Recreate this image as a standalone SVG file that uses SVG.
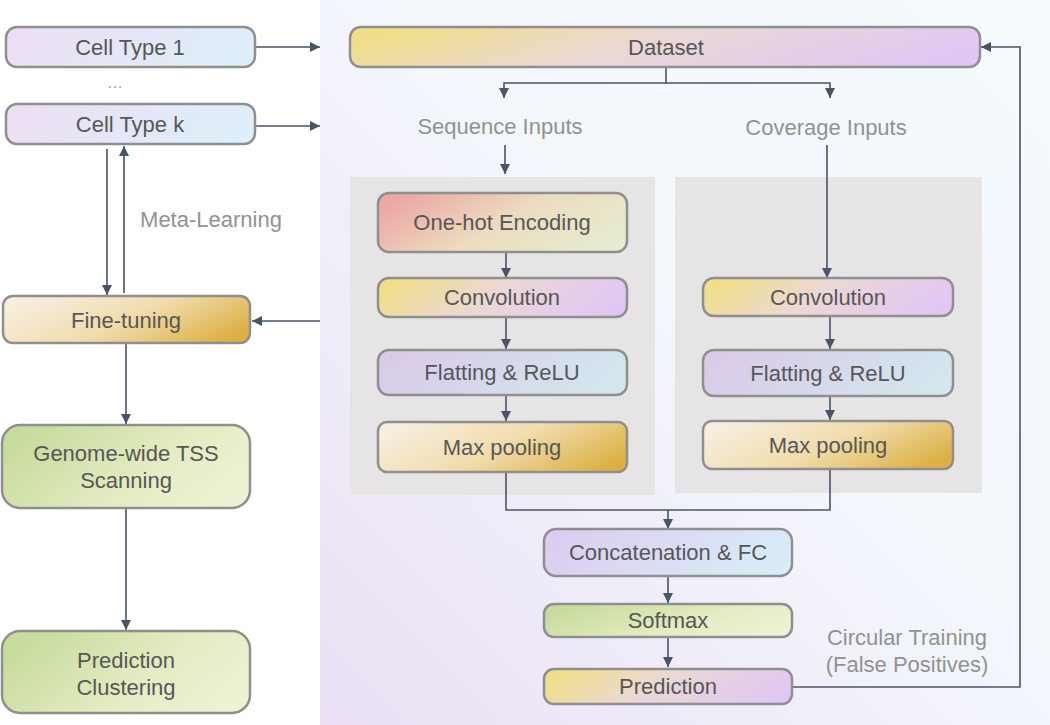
<svg xmlns="http://www.w3.org/2000/svg" width="1050" height="725" viewBox="0 0 1050 725">
<defs>
<style>
.box{stroke:#8f8f8f;stroke-width:2.5}
.lbl{font-family:"Liberation Sans",Arial,sans-serif;font-size:22px;fill:#575757;text-anchor:middle}
.note{font-family:"Liberation Sans",Arial,sans-serif;font-size:22px;fill:#929292;text-anchor:middle}
.edge{fill:none;stroke:#4a5468;stroke-width:1.6}
.panel{fill:#e6e4e4}
</style>
<marker id="ah" viewBox="0 0 10 10" refX="10" refY="5" markerWidth="11" markerHeight="10" markerUnits="userSpaceOnUse" orient="auto">
<path d="M0,0 L10,5 L0,10 z" fill="#4a5468"/>
</marker>
<linearGradient id="bg" gradientUnits="userSpaceOnUse" x1="1050" y1="0" x2="320" y2="725">
<stop offset="0" stop-color="#f5fafd"/>
<stop offset="0.45" stop-color="#f3f7fc"/>
<stop offset="1" stop-color="#ebe0f4"/>
</linearGradient>
<linearGradient id="gCell" x1="0" y1="0.4" x2="1" y2="0.6">
<stop offset="0" stop-color="#ecdff4"/>
<stop offset="1" stop-color="#ddeffa"/>
</linearGradient>
<linearGradient id="gFlat" x1="0" y1="0.4" x2="1" y2="0.6">
<stop offset="0" stop-color="#d9cbe8"/>
<stop offset="1" stop-color="#d3e7ee"/>
</linearGradient>
<linearGradient id="gConcat" x1="0" y1="0.4" x2="1" y2="0.6">
<stop offset="0" stop-color="#dccdf0"/>
<stop offset="1" stop-color="#d8edf8"/>
</linearGradient>
<linearGradient id="gYP" x1="0" y1="0.4" x2="1" y2="0.6">
<stop offset="0" stop-color="#f0df88"/>
<stop offset="0.45" stop-color="#ead8d6"/>
<stop offset="1" stop-color="#e1c6f5"/>
</linearGradient>
<linearGradient id="gGold" x1="0" y1="0.3" x2="1" y2="0.7">
<stop offset="0" stop-color="#f7eedf"/>
<stop offset="0.5" stop-color="#f0dcac"/>
<stop offset="1" stop-color="#dcb044"/>
</linearGradient>
<linearGradient id="gGreen" x1="0" y1="0.3" x2="1" y2="0.7">
<stop offset="0" stop-color="#c7db9c"/>
<stop offset="0.6" stop-color="#e4ecc3"/>
<stop offset="1" stop-color="#eef2d4"/>
</linearGradient>
<linearGradient id="gRed" x1="0" y1="0.3" x2="1" y2="0.7">
<stop offset="0" stop-color="#eca8a4"/>
<stop offset="0.5" stop-color="#ecdcc0"/>
<stop offset="1" stop-color="#e5eccf"/>
</linearGradient>
</defs>

<rect x="0" y="0" width="1050" height="725" fill="#ffffff"/>
<rect x="320" y="0" width="730" height="725" fill="url(#bg)"/>
<rect class="panel" x="350" y="177" width="305" height="318"/>
<rect class="panel" x="675" y="177" width="307" height="316"/>

<g id="connectors">
<path class="edge" d="M255,47 H320" marker-end="url(#ah)"/>
<path class="edge" d="M255,126 H320" marker-end="url(#ah)"/>
<path class="edge" d="M107,149 V295" marker-end="url(#ah)"/>
<path class="edge" d="M124,293 V146" marker-end="url(#ah)"/>
<path class="edge" d="M320,321 H252" marker-end="url(#ah)"/>
<path class="edge" d="M126,343 V424" marker-end="url(#ah)"/>
<path class="edge" d="M126,508 V630" marker-end="url(#ah)"/>
<path class="edge" d="M666,67 V83 H504 V98" marker-end="url(#ah)"/>
<path class="edge" d="M666,83 H830 V98" marker-end="url(#ah)"/>
<path class="edge" d="M505,145 V174" marker-end="url(#ah)"/>
<path class="edge" d="M827,145 V278" marker-end="url(#ah)"/>
<path class="edge" d="M506,252 V278" marker-end="url(#ah)"/>
<path class="edge" d="M506,317 V349" marker-end="url(#ah)"/>
<path class="edge" d="M506,395 V421" marker-end="url(#ah)"/>
<path class="edge" d="M830,316 V349" marker-end="url(#ah)"/>
<path class="edge" d="M830,396 V420" marker-end="url(#ah)"/>
<path class="edge" d="M506,472 V510 H830 V469"/>
<path class="edge" d="M668,510 V529" marker-end="url(#ah)"/>
<path class="edge" d="M668,576 V603" marker-end="url(#ah)"/>
<path class="edge" d="M668,637 V667" marker-end="url(#ah)"/>
<path class="edge" d="M792,687 H1020 V47 H981" marker-end="url(#ah)"/>
</g>

<g id="celltype1"><rect class="box" x="6" y="27" width="249" height="40" rx="11" fill="url(#gCell)"/><text class="lbl" x="130" y="55">Cell Type 1</text></g>
<g id="ellipsis"><text x="115" y="88" font-family="Liberation Sans, Arial, sans-serif" font-size="16" fill="#9a9a9a" text-anchor="middle">…</text></g>
<g id="celltypek"><rect class="box" x="6" y="104" width="249" height="40" rx="11" fill="url(#gCell)"/><text class="lbl" x="130" y="132">Cell Type k</text></g>
<g id="metalearning"><text class="note" x="211" y="227">Meta-Learning</text></g>
<g id="finetuning"><rect class="box" x="3" y="296" width="247" height="47" rx="10" fill="url(#gGold)"/><text class="lbl" x="126" y="328">Fine-tuning</text></g>
<g id="genome"><rect class="box" x="2" y="425" width="248" height="83" rx="18" fill="url(#gGreen)"/><text class="lbl" x="126" y="461">Genome-wide TSS</text><text class="lbl" x="126" y="488">Scanning</text></g>
<g id="clustering"><rect class="box" x="2" y="631" width="248" height="82" rx="18" fill="url(#gGreen)"/><text class="lbl" x="126" y="668">Prediction</text><text class="lbl" x="126" y="695">Clustering</text></g>

<g id="dataset"><rect class="box" x="350" y="27" width="630" height="40" rx="11" fill="url(#gYP)"/><text class="lbl" x="666" y="55">Dataset</text></g>
<g id="seqinputs"><text class="note" x="500" y="134">Sequence Inputs</text></g>
<g id="covinputs"><text class="note" x="826" y="135">Coverage Inputs</text></g>

<g id="onehot"><rect class="box" x="378" y="193" width="249" height="59" rx="11" fill="url(#gRed)"/><text class="lbl" x="502" y="230">One-hot Encoding</text></g>
<g id="conv1"><rect class="box" x="378" y="278" width="249" height="39" rx="11" fill="url(#gYP)"/><text class="lbl" x="502" y="305">Convolution</text></g>
<g id="flat1"><rect class="box" x="378" y="350" width="249" height="45" rx="11" fill="url(#gFlat)"/><text class="lbl" x="502" y="380">Flatting &amp; ReLU</text></g>
<g id="max1"><rect class="box" x="378" y="422" width="249" height="50" rx="9" fill="url(#gGold)"/><text class="lbl" x="502" y="455">Max pooling</text></g>

<g id="conv2"><rect class="box" x="703" y="278" width="250" height="38" rx="11" fill="url(#gYP)"/><text class="lbl" x="828" y="305">Convolution</text></g>
<g id="flat2"><rect class="box" x="703" y="350" width="250" height="46" rx="11" fill="url(#gFlat)"/><text class="lbl" x="828" y="381">Flatting &amp; ReLU</text></g>
<g id="max2"><rect class="box" x="703" y="421" width="250" height="48" rx="9" fill="url(#gGold)"/><text class="lbl" x="828" y="453">Max pooling</text></g>

<g id="concat"><rect class="box" x="544" y="529" width="248" height="47" rx="12" fill="url(#gConcat)"/><text class="lbl" x="668" y="560">Concatenation &amp; FC</text></g>
<g id="softmax"><rect class="box" x="544" y="604" width="248" height="33" rx="10" fill="url(#gGreen)"/><text class="lbl" x="668" y="628">Softmax</text></g>
<g id="prediction"><rect class="box" x="544" y="669" width="248" height="35" rx="10" fill="url(#gYP)"/><text class="lbl" x="668" y="694">Prediction</text></g>
<g id="circular"><text class="note" x="907" y="645">Circular Training</text><text class="note" x="907" y="672">(False Positives)</text></g>
</svg>
